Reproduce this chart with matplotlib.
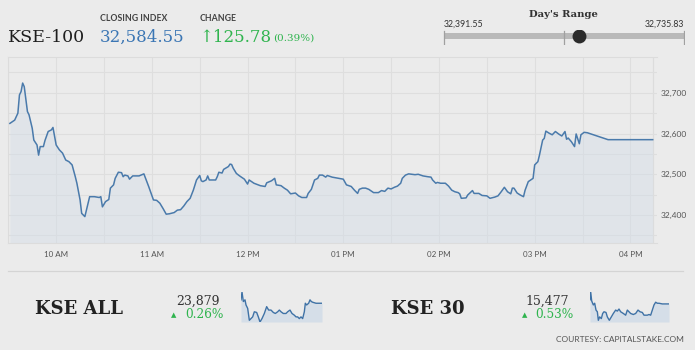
import matplotlib
matplotlib.use("Agg")
import matplotlib.pyplot as plt
from matplotlib.lines import Line2D
from matplotlib.patches import Rectangle
from matplotlib.ticker import FuncFormatter

# KSE-100 intraday (clock time, index level)
times = [
    "9:31", "9:34", "9:36", "9:37", "9:38", "9:39", "9:40", "9:42", "9:43", "9:45",
    "9:46", "9:48", "9:49", "9:50", "9:52", "9:53", "9:55", "9:57", "9:58", "10:00",
    "10:02", "10:04", "10:06", "10:08", "10:10", "10:12", "10:13", "10:15", "10:16", "10:18",
    "10:19", "10:21", "10:24", "10:27", "10:28", "10:29", "10:31", "10:33", "10:34", "10:36",
    "10:37", "10:39", "10:41", "10:42", "10:43", "10:45", "10:46", "10:48", "10:52", "10:55",
    "10:58", "11:01", "11:03", "11:05", "11:07", "11:09", "11:11", "11:14", "11:16", "11:18",
    "11:20", "11:22", "11:24", "11:26", "11:28", "11:30", "11:31", "11:32", "11:34", "11:35",
    "11:36", "11:40", "11:41", "11:42", "11:44", "11:45", "11:48", "11:49", "11:50", "11:51",
    "11:53", "11:55", "11:58", "12:00", "12:01", "12:04", "12:08", "12:11", "12:12", "12:15",
    "12:17", "12:18", "12:21", "12:23", "12:25", "12:27", "12:30", "12:32", "12:34", "12:37",
    "12:38", "12:40", "12:42", "12:44", "12:45", "12:47", "12:49", "12:50", "12:53", "12:57",
    "13:00", "13:02", "13:05", "13:07", "13:09", "13:10", "13:12", "13:14", "13:16", "13:19",
    "13:22", "13:24", "13:26", "13:28", "13:30", "13:32", "13:34", "13:36", "13:37", "13:39",
    "13:41", "13:45", "13:47", "13:50", "13:53", "13:55", "13:56", "13:58", "13:59", "14:01",
    "14:04", "14:06", "14:08", "14:10", "14:12", "14:13", "14:14", "14:17", "14:18", "14:21",
    "14:22", "14:25", "14:27", "14:30", "14:32", "14:35", "14:37", "14:39", "14:41", "14:43",
    "14:45", "14:46", "14:47", "14:49", "14:51", "14:53", "14:54", "14:56", "14:59", "15:00",
    "15:02", "15:03", "15:05", "15:06", "15:07", "15:09", "15:11", "15:13", "15:15", "15:17",
    "15:19", "15:20", "15:21", "15:23", "15:25", "15:26", "15:28", "15:29", "15:31", "15:33",
    "15:46", "16:14",
]
kse100 = [
    32625, 32633, 32650, 32695, 32703, 32724, 32715, 32654, 32646, 32613,
    32584, 32572, 32547, 32568, 32568, 32583, 32605, 32609, 32615, 32572,
    32560, 32552, 32535, 32531, 32523, 32494, 32478, 32437, 32404, 32396,
    32412, 32445, 32445, 32443, 32445, 32420, 32433, 32438, 32466, 32474,
    32490, 32505, 32504, 32494, 32498, 32496, 32488, 32496, 32496, 32501,
    32470, 32437, 32436, 32429, 32416, 32402, 32403, 32406, 32412, 32413,
    32422, 32433, 32441, 32461, 32486, 32497, 32484, 32482, 32486, 32496,
    32486, 32486, 32494, 32505, 32503, 32512, 32519, 32525, 32524, 32515,
    32502, 32496, 32488, 32476, 32486, 32478, 32472, 32470, 32479, 32484,
    32490, 32474, 32472, 32466, 32461, 32452, 32454, 32447, 32443, 32443,
    32453, 32463, 32486, 32490, 32498, 32498, 32493, 32497, 32493, 32490,
    32488, 32474, 32470, 32461, 32453, 32463, 32466, 32466, 32463, 32455,
    32455, 32460, 32458, 32466, 32464, 32468, 32471, 32478, 32490, 32498,
    32501, 32499, 32500, 32496, 32494, 32493, 32486, 32478, 32480, 32478,
    32478, 32471, 32461, 32457, 32455, 32452, 32441, 32442, 32449, 32460,
    32453, 32453, 32448, 32447, 32441, 32444, 32447, 32457, 32468, 32457,
    32452, 32466, 32466, 32454, 32449, 32445, 32461, 32482, 32490, 32523,
    32531, 32547, 32584, 32588, 32606, 32601, 32597, 32605, 32599, 32594,
    32605, 32586, 32589, 32580, 32568, 32599, 32575, 32597, 32603, 32602,
    32585, 32585,
]

close_value = 32584.55
change_value = 125.78
change_pct = 0.39
day_low = 32391.55
day_high = 32735.83

y_ticks = [32400, 32500, 32600, 32700]
hour_ticks = [10, 11, 12, 13, 14, 15, 16]

# sparklines (relative levels)
kse_all_pos = [0, 3, 7, 12, 15, 20, 25, 30, 35, 40, 47, 52, 57, 63, 70, 77, 83, 90, 97, 103,
               110, 115, 120, 127, 135, 140, 147, 153, 160, 165, 170, 175, 180, 185, 190, 193,
               197, 203, 207, 211, 215, 225, 235, 243]
kse_all_lvl = [65, 88, 60, 65, 50, 40, 5, 10, 15, 30, 28, 15, 0, 10, 25, 45, 35, 35, 28, 25,
               30, 35, 30, 25, 25, 30, 35, 25, 20, 15, 15, 10, 15, 10, 30, 55,
               50, 55, 65, 60, 58, 55, 55, 55]
kse30_pos = [0, 2, 5, 10, 14, 18, 22, 25, 29, 34, 38, 42, 48, 52, 58, 64, 70, 77, 82, 87,
             92, 100, 107, 112, 117, 122, 130, 137, 144, 150, 157, 162, 172, 177, 182, 187,
             192, 197, 202, 207, 217, 232, 237]
kse30_lvl = [65, 88, 62, 50, 55, 35, 30, 5, 15, 10, 25, 30, 28, 15, 5, 15, 25, 35, 32, 38,
             30, 25, 20, 35, 30, 25, 22, 25, 35, 30, 28, 20, 20, 22, 20, 35,
             50, 58, 55, 55, 53, 53, 53]

kse_all_value = "23,879"
kse_all_change = "0.26%"
kse30_value = "15,477"
kse30_change = "0.53%"

BG = "#ebebeb"
LINE = "#4a7aab"
FILL = "#d3dde8"
GREEN = "#2fb44e"
BLUE = "#3b76b4"
SERIF = ["DejaVu Serif", "DejaVu Sans"]
SANS = ["Lato", "DejaVu Sans"]

W, H = 696, 353


def fx(x):
    return x / W


def fy(y):
    return 1 - y / H


def to_min(s):
    h, m = s.split(":")
    return int(h) * 60 + int(m)


t = [to_min(s) for s in times]

fig = plt.figure(figsize=(W / 100, H / 100), dpi=100, facecolor=BG)

# ---- main intraday chart ----
left, right, top, bottom = 8.3, 656.7, 57, 243.3
ax = fig.add_axes([fx(left), fy(bottom), fx(right - left), fy(top) - fy(bottom)])
ax.set_facecolor(BG)
ymin, ymax = 32330.5, 32788
ax.fill_between(t, kse100, ymin, color=FILL, alpha=0.45, lw=0, zorder=1)
ax.plot(t, kse100, color=LINE, lw=1.1, zorder=3)
ax.set_xlim(t[0], t[-1] + 2.5)
ax.set_ylim(ymin, ymax)
ax.axvline(t[-1], color="#dcdcdc", lw=0.9, zorder=0)

ax.set_yticks(y_ticks)
ax.set_yticks(range(32350, 32800, 50), minor=True)
ax.yaxis.tick_right()
ax.yaxis.set_major_formatter(FuncFormatter(lambda v, p: f"{int(v):,}"))
ax.set_xticks([h * 60 for h in hour_ticks])
ax.set_xticks([h * 60 + 30 for h in range(9, 16)], minor=True)
ax.set_xticklabels([f"{(h % 12) or 12:02d} {'AM' if h < 12 else 'PM'}" for h in hour_ticks])
ax.tick_params(which="both", length=0)
ax.tick_params(axis="y", pad=2.6, labelsize=6, labelcolor="#555555")
ax.tick_params(axis="x", pad=5.5, labelsize=5.8, labelcolor="#555555")
for lbl in ax.get_xticklabels() + ax.get_yticklabels():
    lbl.set_family(SANS)
ax.grid(which="both", color="#dedede", lw=0.8, zorder=0)
ax.set_axisbelow(True)
for side in ["top", "left", "bottom"]:
    ax.spines[side].set_color("#dcdcdc")
    ax.spines[side].set_linewidth(0.8)
ax.spines["right"].set_visible(False)

# ---- header ----
fig.text(fx(8), fy(41.5), "KSE-100", family=SERIF, fontsize=12.5, color="#1e1e1e", va="baseline")
fig.text(fx(100), fy(20.7), "CLOSING INDEX", family=SANS, fontsize=6.3, weight="bold",
         color="#444444", va="baseline")
fig.text(fx(100), fy(41.5), f"{close_value:,.2f}", family=SERIF, fontsize=12,
         color=BLUE, va="baseline")
fig.text(fx(200), fy(20.7), "CHANGE", family=SANS, fontsize=6.3, weight="bold",
         color="#444444", va="baseline")
fig.text(fx(199), fy(41.5), f"\u2191{change_value:.2f}", family=SERIF, fontsize=12,
         color=GREEN, va="baseline")
fig.text(fx(273), fy(40.5), f"({change_pct:.2f}%)", family=SERIF, fontsize=7.5,
         color=GREEN, va="baseline")

# ---- day's range ----
fig.text(fx(563.5), fy(17.3), "Day's Range", family=SERIF, fontsize=7.2, weight="bold",
         color="#333333", ha="center", va="baseline")
fig.text(fx(444), fy(26.7), f"{day_low:,.2f}", family=SANS, fontsize=6.3,
         color="#333333", va="baseline")
fig.text(fx(684), fy(26.7), f"{day_high:,.2f}", family=SANS, fontsize=6.3,
         color="#333333", ha="right", va="baseline")
rax = fig.add_axes([fx(443), fy(45), fx(242), fy(30) - fy(45)])
rax.set_xlim(day_low - (day_high - day_low) / 240, day_high + (day_high - day_low) / 240)
rax.set_ylim(45, 30)
rax.axis("off")
rax.plot([day_low, day_high], [36.3, 36.3], color="#b9b9b9", lw=4.3, solid_capstyle="butt")
mid = (day_low + day_high) / 2
for xv in [day_low, mid, day_high]:
    rax.plot([xv, xv], [31, 44.5], color="#a0a0a0", lw=0.9)
rax.plot([close_value], [36.3], "o", color="#2b2b2b", ms=10, mec="none")

# ---- separator ----
fig.add_artist(Line2D([fx(8), fx(683)], [fy(270.7), fy(270.7)], color="#d4d4d4", lw=0.9))


# ---- bottom indices ----
def spark(x0, x1, pos, lvl):
    sax = fig.add_axes([fx(x0), fy(322), fx(x1 - x0), fy(292) - fy(322)])
    sax.set_facecolor("none")
    sax.fill_between(pos, lvl, 0, color="#d5dee8", lw=0)
    sax.plot(pos, lvl, color="#3f72a6", lw=1.0)
    sax.set_xlim(pos[0], pos[-1])
    sax.set_ylim(0, max(lvl))
    sax.axis("off")


def index_block(name, name_x, val, val_x, chg, tri_x, chg_x):
    fig.text(fx(name_x), fy(314), name, family=SERIF, fontsize=13, weight="bold",
             color="#222222", va="baseline")
    fig.text(fx(val_x), fy(304.5), val, family=SERIF, fontsize=9, color="#333333",
             ha="right", va="baseline")
    fig.text(fx(tri_x), fy(315.3), "\u25b2", family=["DejaVu Sans"], fontsize=5,
             color=GREEN, ha="center", va="center")
    fig.text(fx(chg_x), fy(318.3), chg, family=SERIF, fontsize=8.7, color=GREEN,
             va="baseline")


index_block("KSE ALL", 35, kse_all_value, 219.5, kse_all_change, 173.5, 185)
spark(241, 322, kse_all_pos, kse_all_lvl)
index_block("KSE 30", 391, kse30_value, 568.5, kse30_change, 525, 535.5)
spark(590, 669, kse30_pos, kse30_lvl)

fig.text(fx(683.5), fy(341.7), "COURTESY: CAPITALSTAKE.COM", family=SANS, fontsize=6,
         color="#555555", ha="right", va="baseline")

# white margin at the very bottom / right
fig.add_artist(Rectangle((0, 0), 1, 3 / H, transform=fig.transFigure, color="white", lw=0))
fig.add_artist(Rectangle((695 / W, 0), 1 / W, 1, transform=fig.transFigure, color="white", lw=0))

fig.savefig("out.png", dpi=100, facecolor=BG)
